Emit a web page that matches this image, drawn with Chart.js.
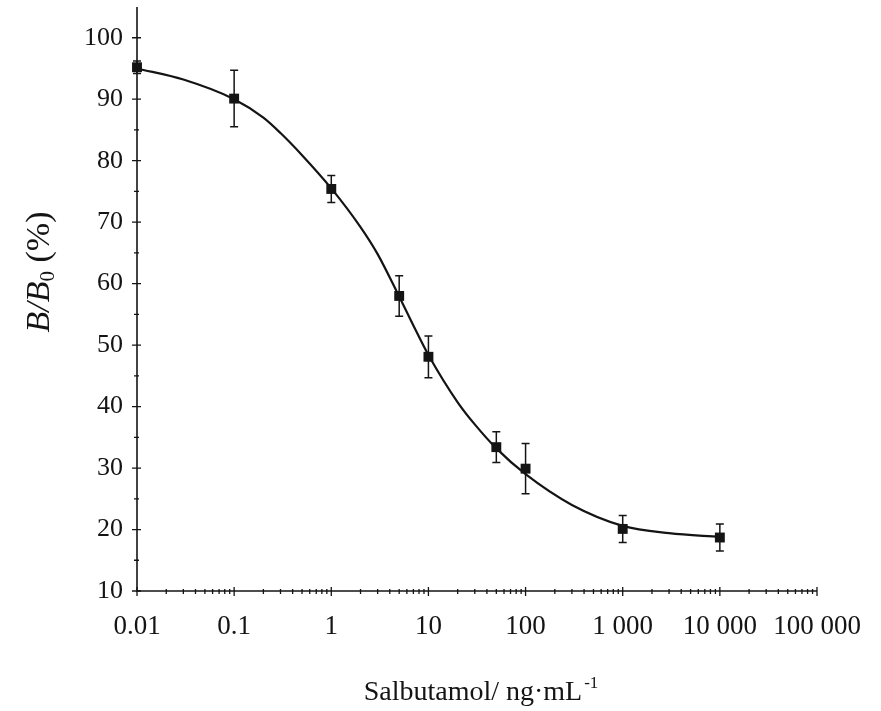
<!DOCTYPE html>
<html>
<head>
<meta charset="utf-8">
<title>Salbutamol standard curve</title>
<script src="https://cdn.jsdelivr.net/npm/chart.js@4/dist/chart.umd.min.js"></script>
<style>
  html, body { margin: 0; padding: 0; background: #fff; }
  canvas { display: block; }
</style>
</head>
<body>
<canvas id="mycanvas" width="881" height="711"></canvas>
<script>
var concentrations = [0.01, 0.1, 1, 5, 10, 50, 100, 1000, 10000];
var meanRatio = [95.2, 90.1, 75.4, 58.0, 48.1, 33.4, 29.9, 20.1, 18.7];
var errRatio = [1.0, 4.6, 2.2, 3.3, 3.4, 2.5, 4.1, 2.2, 2.2];

// fitted curve
var curveConc = [0.01, 0.03, 0.1, 0.2, 0.3, 0.5, 1, 2, 3, 5, 7, 10, 20, 30, 50, 100, 300, 1000, 3000, 10000];
var curveRatio = [95.0, 93.2, 90.0, 87.0, 84.5, 80.9, 75.5, 69.2, 64.8, 57.9, 53.2, 48.4, 40.7, 37.1, 33.2, 29.0, 24.0, 20.6, 19.4, 18.8];

var xTickValues = [0.01, 0.1, 1, 10, 100, 1000, 10000, 100000];
var xTickLabels = ['0.01', '0.1', '1', '10', '100', '1 000', '10 000', '100 000'];
var yTickValues = [10, 20, 30, 40, 50, 60, 70, 80, 90, 100];

var serif = '"Liberation Serif", "DejaVu Serif", serif';
var ink = '#141414';

var points = [];
for (var i in concentrations) {
  points.push({ x: concentrations[i], y: meanRatio[i] });
}
var curve = [];
for (var j in curveConc) {
  curve.push({ x: curveConc[j], y: curveRatio[j] });
}

// error bars, axis lines, tick marks and axis titles
var extras = {
  id: 'extras',
  beforeDatasetsDraw: function(chart) {
    var ctx = chart.ctx, xs = chart.scales.x, ys = chart.scales.y;
    ctx.save();
    ctx.strokeStyle = ink;
    ctx.lineWidth = 1.5;
    for (var i = 0; i < concentrations.length; i++) {
      var px = xs.getPixelForValue(concentrations[i]);
      var top = ys.getPixelForValue(meanRatio[i] + errRatio[i]);
      var bot = ys.getPixelForValue(meanRatio[i] - errRatio[i]);
      ctx.beginPath();
      ctx.moveTo(px, top); ctx.lineTo(px, bot);
      ctx.moveTo(px - 4, top); ctx.lineTo(px + 4, top);
      ctx.moveTo(px - 4, bot); ctx.lineTo(px + 4, bot);
      ctx.stroke();
    }
    ctx.restore();
  },
  afterDraw: function(chart) {
    var ctx = chart.ctx, xs = chart.scales.x, ys = chart.scales.y, area = chart.chartArea;
    ctx.save();
    ctx.strokeStyle = ink;
    ctx.lineWidth = 1.6;
    ctx.beginPath();
    ctx.moveTo(area.left, area.top);
    ctx.lineTo(area.left, area.bottom);
    ctx.lineTo(area.right, area.bottom);
    ctx.stroke();

    ctx.lineWidth = 1.3;
    ctx.beginPath();
    yTickValues.forEach(function(v) {
      var py = ys.getPixelForValue(v);
      ctx.moveTo(area.left - 5, py); ctx.lineTo(area.left + 4, py);
      if (v + 5 < ys.max) {
        var pm = ys.getPixelForValue(v + 5);
        ctx.moveTo(area.left - 3, pm); ctx.lineTo(area.left + 2, pm);
      }
    });
    xTickValues.forEach(function(v, k) {
      var px = xs.getPixelForValue(v);
      ctx.moveTo(px, area.bottom - 4); ctx.lineTo(px, area.bottom + 5);
      if (k < xTickValues.length - 1) {
        for (var m = 2; m <= 9; m++) {
          var pm = xs.getPixelForValue(v * m);
          ctx.moveTo(pm, area.bottom - 2); ctx.lineTo(pm, area.bottom + 3);
        }
      }
    });
    ctx.stroke();

    // x title with superscript
    ctx.fillStyle = ink;
    ctx.textBaseline = 'alphabetic';
    ctx.textAlign = 'left';
    var mainTxt = 'Salbutamol/ ng\u00b7mL', supTxt = '-1';
    ctx.font = '28px ' + serif;
    var w1 = ctx.measureText(mainTxt).width;
    ctx.font = '17px ' + serif;
    var w2 = ctx.measureText(supTxt).width;
    var cx = (area.left + area.right) / 2 + 4;
    var sx = cx - (w1 + w2 + 2) / 2;
    ctx.font = '28px ' + serif;
    ctx.fillText(mainTxt, sx, 700);
    ctx.font = '17px ' + serif;
    ctx.fillText(supTxt, sx + w1 + 2, 688);

    // y title: B/B0 (%)
    ctx.save();
    ctx.translate(40, (area.top + area.bottom) / 2 - 27);
    ctx.rotate(-Math.PI / 2);
    var p1 = 'B/B', p2 = '0', p3 = ' (%)';
    ctx.font = 'italic 34px ' + serif;
    var a = ctx.measureText(p1).width;
    ctx.font = '21px ' + serif;
    var b = ctx.measureText(p2).width;
    ctx.font = '34px ' + serif;
    var c = ctx.measureText(p3).width;
    var start = -(a + b + c) / 2;
    ctx.textBaseline = 'middle';
    ctx.font = 'italic 34px ' + serif;
    ctx.fillText(p1, start, 0);
    ctx.font = '21px ' + serif;
    ctx.fillText(p2, start + a, 8);
    ctx.font = '34px ' + serif;
    ctx.fillText(p3, start + a + b, 0);
    ctx.restore();

    ctx.restore();
  }
};

var ctx = document.getElementById('mycanvas');

var chart = new Chart(ctx, {
  data: {
    datasets: [
      {
        type: 'scatter',
        label: 'B/B0',
        data: points,
        pointStyle: 'rect',
        pointRadius: 7,
        backgroundColor: ink,
        borderColor: ink,
        borderWidth: 0,
        clip: false,
        order: 0
      },
      {
        type: 'line',
        label: 'fit',
        data: curve,
        borderColor: ink,
        borderWidth: 2.2,
        pointRadius: 0,
        fill: false,
        cubicInterpolationMode: 'monotone',
        clip: false,
        order: 1
      }
    ]
  },
  options: {
    responsive: false,
    animation: false,
    layout: { padding: { top: 7, right: 64, left: 0, bottom: 0 } },
    plugins: {
      legend: { display: false },
      tooltip: { enabled: false }
    },
    scales: {
      x: {
        type: 'logarithmic',
        min: 0.01,
        max: 100000,
        grid: { display: false, drawTicks: false },
        border: { display: false },
        afterBuildTicks: function(scale) {
          scale.ticks = xTickValues.map(function(v) { return { value: v }; });
        },
        afterFit: function(scale) {
          scale.height = 120;
          scale.paddingLeft = 0;
          scale.paddingRight = 0;
        },
        ticks: {
          autoSkip: false,
          maxRotation: 0,
          padding: 20,
          color: ink,
          font: { family: serif, size: 27 },
          callback: function(value, index) { return xTickLabels[index]; }
        }
      },
      y: {
        type: 'linear',
        min: 10,
        max: 105,
        grid: { display: false, drawTicks: false },
        border: { display: false },
        afterBuildTicks: function(scale) {
          scale.ticks = yTickValues.map(function(v) { return { value: v }; });
        },
        afterFit: function(scale) {
          scale.width = 137;
          scale.paddingTop = 0;
          scale.paddingBottom = 0;
        },
        ticks: {
          padding: 14,
          color: ink,
          font: { family: serif, size: 26 }
        }
      }
    }
  },
  plugins: [extras]
});
</script>
</body>
</html>
